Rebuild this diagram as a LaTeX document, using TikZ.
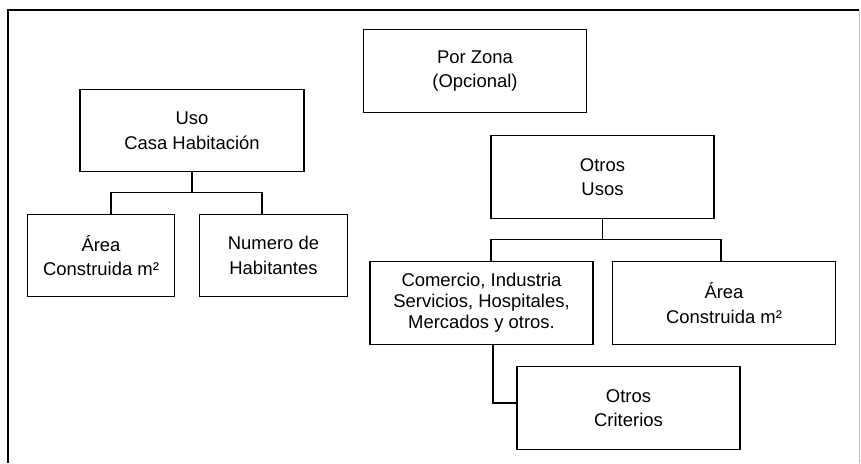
\documentclass[tikz,border=0pt]{standalone}
\usepackage{fontspec}
\setmainfont{Liberation Sans}

\begin{document}
\begin{tikzpicture}[x=0.02cm,y=-0.02cm,
    box/.style={draw, line width=0.8pt, align=center, minimum width=4.46cm, minimum height=1.65cm, inner sep=0pt, font=\fontsize{10.5}{14}\selectfont},
    smallbox/.style={box, minimum width=2.95cm},
    link/.style={line width=0.6pt}]
\useasboundingbox (0,0) rectangle (861,463);
\draw[line width=0.8pt] (8,463) -- (8,10) -- (859,10);
\draw[gray!50] (859,10) -- (859,463);

    \node[box] (zona) at (475,71) {Por Zona\\(Opcional)};

    \node[box, minimum width=4.48cm] (uso) at (192,130.5) {Uso\\Casa Habitación};
    \node[smallbox] (area1) at (101,255.5) {Área\\Construida m²};
    \node[smallbox] (numero) at (273.5,255.5) {Numero de\\Habitantes};

    \node[box] (otros) at (602.5,177) {Otros\\Usos};
    \node[box, font=\fontsize{10.5}{12}\selectfont] (comercio) at (481.5,303) {Comercio, Industria\\Servicios, Hospitales,\\Mercados y otros.};
    \node[box] (area2) at (724,303) {Área\\Construida m²};
    \node[box] (criterios) at (628.5,408) {Otros\\Criterios};

    \draw[link] (uso.south) -- ++(0,-0.4cm) coordinate (j1);
    \draw[link] ([xshift=0.2cm]area1.north) |- (j1) -| ([xshift=-0.23cm]numero.north);

    \draw[link] (otros.south) -- ++(0,-0.42cm) coordinate (j2);
    \draw[link] ([xshift=0.19cm]comercio.north) |- (j2) -| ([xshift=-0.06cm]area2.north);

    \draw[link] ([xshift=0.23cm]comercio.south) |- ([yshift=0.1cm]criterios.west);
\end{tikzpicture}
\end{document}
